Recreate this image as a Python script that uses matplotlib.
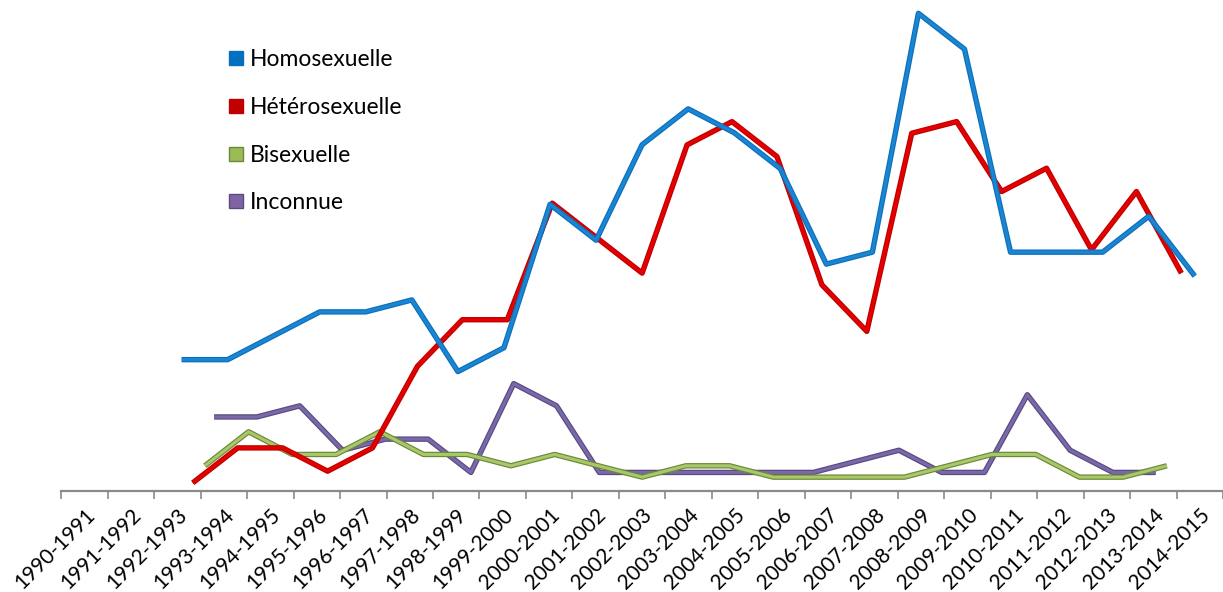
import numpy as np
import matplotlib.pyplot as plt
from matplotlib.lines import Line2D

plt.rcParams['font.family'] = ['Lato', 'DejaVu Sans']

# Saisons sur l'axe horizontal
saisons = ['1990-1991', '1991-1992', '1992-1993', '1993-1994', '1994-1995',
           '1995-1996', '1996-1997', '1997-1998', '1998-1999', '1999-2000',
           '2000-2001', '2001-2002', '2002-2003', '2003-2004', '2004-2005',
           '2005-2006', '2006-2007', '2007-2008', '2008-2009', '2009-2010',
           '2010-2011', '2011-2012', '2012-2013', '2013-2014', '2014-2015']

# Les séries commencent en 1992-1993
debut = 2

homosexuelle   = [11, 11, 13, 15, 15, 16, 10, 12, 24, 21, 29, 32, 30, 27, 19, 20, 40, 37, 20, 20, 20, 23, 18]
heterosexuelle = [1, 4, 4, 2, 4, 11, 15, 15, 25, 22, 19, 30, 32, 29, 18, 14, 31, 32, 26, 28, 21, 26, 19]
bisexuelle     = [2, 5, 3, 3, 5, 3, 3, 2, 3, 2, 1, 2, 2, 1, 1, 1, 1, 2, 3, 3, 1, 1, 2]
inconnue       = [6, 6, 7, 3, 4, 4, 1, 9, 7, 1, 1, 1, 1, 1, 1, 2, 3, 1, 1, 8, 3, 1, 1]

# couleur, bordure, échelle de profondeur (effet 3D), décalage vertical
series = [
    ('Inconnue',       inconnue,       '#7b68a8', '#584a82', 0.921, 0.62),
    ('Bisexuelle',     bisexuelle,     '#a9c76b', '#6b8a35', 0.941, 0.21),
    ('Hétérosexuelle', heterosexuelle, '#e40000', '#c00000', 0.967, -0.29),
    ('Homosexuelle',   homosexuelle,   '#1a86d3', '#0d6fb9', 0.991, 0.0),
]
centre = 12  # point de fuite horizontal

fig = plt.figure(figsize=(12.23, 5.92), dpi=100)
ax = fig.add_axes([61.25 / 1223, 101 / 592, (1223 - 61.25) / 1223, 491 / 592])
ax.set_xlim(-0.5, 24.38)
ax.set_ylim(0, 491 / 12.05)

for z, (nom, valeurs, couleur, bord, s, dy) in enumerate(series):
    k = np.arange(debut, debut + len(valeurs))
    x = centre + (k - centre) * s
    y = dy + np.array(valeurs) * s
    ax.plot(x, y, color=bord, lw=3.9, solid_capstyle='butt',
            solid_joinstyle='round', zorder=3 + z, clip_on=False)
    ax.plot(x, y, color=couleur, lw=2.2, solid_capstyle='butt',
            solid_joinstyle='round', zorder=3.5 + z, clip_on=False)

# Axe horizontal : graduations entre les saisons, étiquettes au centre
for cote in ['left', 'top', 'right']:
    ax.spines[cote].set_visible(False)
ax.spines['bottom'].set_color('#8a8a8a')
ax.spines['bottom'].set_linewidth(1.6)
ax.set_yticks([])
limites = np.arange(-0.5, len(saisons))
ax.set_xticks(limites, [''] * len(limites))
ax.tick_params(axis='x', which='major', direction='out', length=6,
               width=1.2, color='#8a8a8a')
ax.set_xticks(np.arange(len(saisons)), saisons, minor=True, rotation=45,
              ha='right', rotation_mode='anchor', fontsize=15)
ax.tick_params(axis='x', which='minor', length=0, pad=10)

# Légende
fonds = {'Homosexuelle': '#0070c0', 'Hétérosexuelle': '#c00000',
         'Bisexuelle': '#9bbb59', 'Inconnue': '#8064a2'}
poignees = []
for nom, valeurs, couleur, bord, s, dy in series[::-1]:
    poignees.append(Line2D([], [], ls='none', marker='s', markersize=10,
                           markerfacecolor=fonds[nom], markeredgecolor=bord,
                           markeredgewidth=1, label=nom))
fig.legend(handles=poignees, loc='upper left',
           bbox_to_anchor=(229 / 1223, 1 - 49 / 592), frameon=False,
           fontsize=16.5, handlelength=0.6, handletextpad=0.3,
           labelspacing=1.17, borderpad=0, borderaxespad=0)

plt.savefig('out.png', dpi=100)
